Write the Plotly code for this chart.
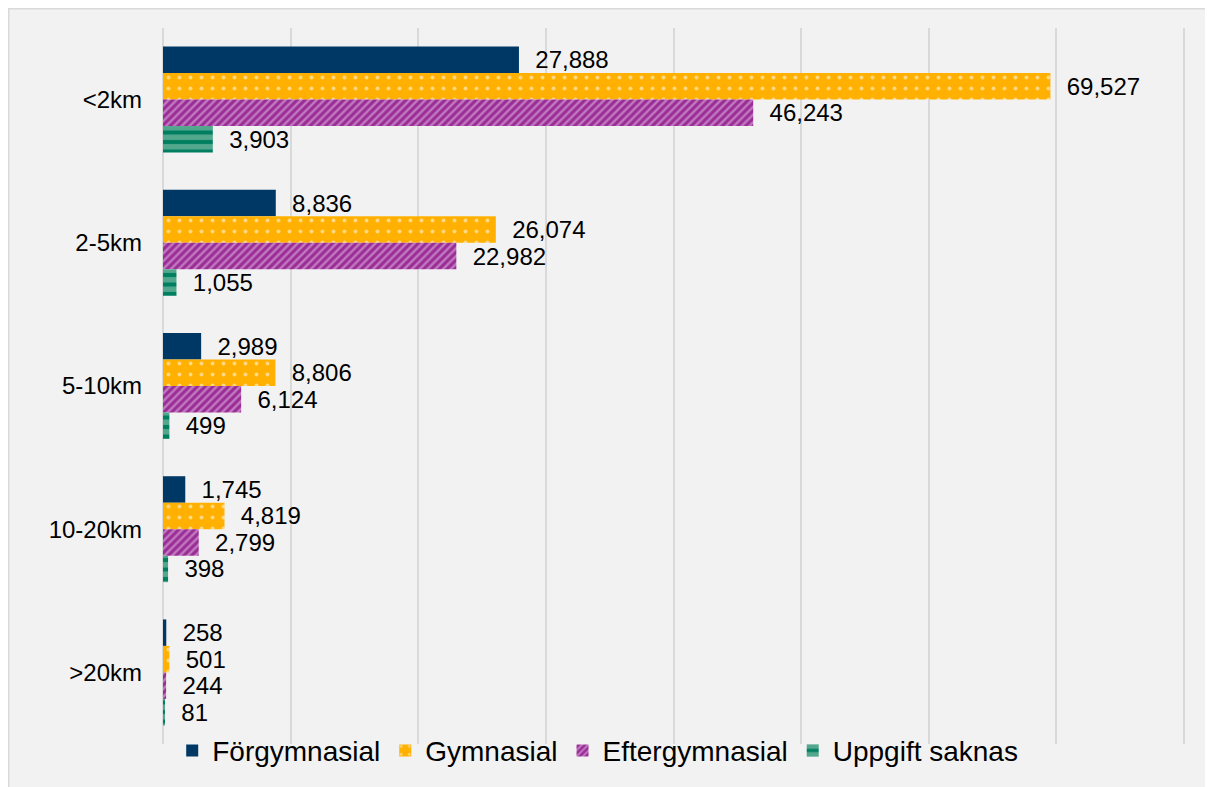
import plotly.graph_objects as go

categories = ["<2km", "2-5km", "5-10km", "10-20km", ">20km"]
forgymnasial = [27888, 8836, 2989, 1745, 258]
gymnasial = [69527, 26074, 8806, 4819, 501]
eftergymnasial = [46243, 22982, 6124, 2799, 244]
uppgift_saknas = [3903, 1055, 499, 398, 81]

series = [
    ("Förgymnasial", forgymnasial, dict(color="#003865")),
    ("Gymnasial", gymnasial, dict(color="#FFB000",
        pattern=dict(shape=".", fgcolor="#FFFFFF", bgcolor="#FFB000", size=11, solidity=0.1))),
    ("Eftergymnasial", eftergymnasial, dict(color="#9A2C96",
        pattern=dict(shape="/", fgcolor="#E8C6E8", bgcolor="#9A2C96", size=5.5, solidity=0.45))),
    ("Uppgift saknas", uppgift_saknas, dict(color="#007F60",
        pattern=dict(shape="-", fgcolor="#A3CFBA", bgcolor="#007F60", size=9.5, solidity=0.58))),
]

FONT = "Liberation Sans, Arial, sans-serif"

fig = go.Figure()
for name, vals, marker in series:
    fig.add_trace(go.Bar(
        name=name, y=categories, x=vals, orientation="h",
        marker=dict(line=dict(width=0), **marker),
        text=["  " + f"{v:,}" for v in vals],
        textposition="outside", constraintext="none", cliponaxis=False,
        textfont=dict(family=FONT, size=24, color="#000000"),
        hoverinfo="x+name",
    ))

fig.update_layout(
    width=1205, height=779,
    margin=dict(l=155, r=27, t=20, b=42),
    paper_bgcolor="#F2F2F2", plot_bgcolor="rgba(0,0,0,0)",
    barmode="group", bargap=0.26, bargroupgap=0,
    font=dict(family=FONT, color="#000000"),
    xaxis=dict(range=[0, 80150], dtick=10000, showticklabels=False,
               showgrid=True, gridcolor="#D9D9D9", gridwidth=2,
               zeroline=True, zerolinecolor="#D9D9D9", zerolinewidth=2,
               showline=False, fixedrange=True),
    yaxis=dict(autorange="reversed", showgrid=False, showline=False,
               ticks="", ticklabelstandoff=20,
               tickfont=dict(size=24, color="#000000")),
    legend=dict(orientation="h", x=0.009, xanchor="left", y=-0.008, yanchor="middle",
                traceorder="normal", font=dict(size=28, color="#000000"),
                bgcolor="rgba(0,0,0,0)", itemwidth=30),
    showlegend=True,
    shapes=[dict(type="rect", xref="paper", yref="paper",
                 x0=(8.5 - 163) / 1023, x1=1.2, y0=-0.3, y1=(745 - 8.5) / 717,
                 fillcolor="rgba(0,0,0,0)", line=dict(color="#D9D9D9", width=2),
                 layer="below")],
)

fig.write_html("out.html")
